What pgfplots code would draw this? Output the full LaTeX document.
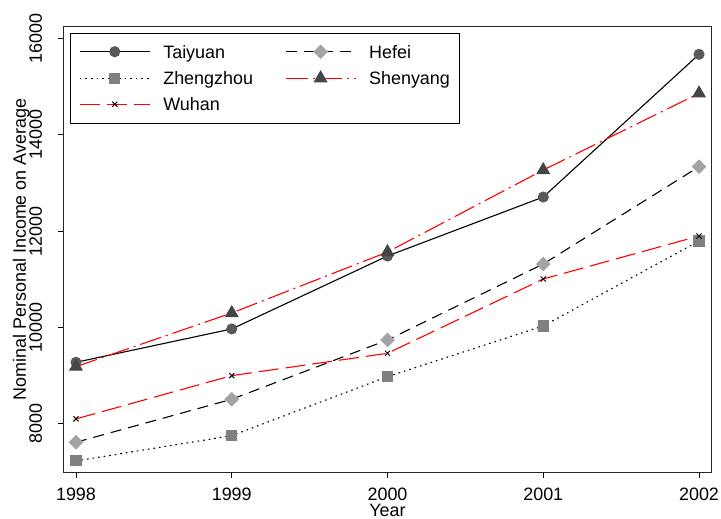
\documentclass[border=0pt]{standalone}
\usepackage{fontspec}
\setmainfont{Liberation Sans}
\usepackage{pgfplots}
\pgfplotsset{compat=1.18}

\definecolor{circlegray}{HTML}{595959}
\definecolor{squaregray}{HTML}{808080}
\definecolor{diamondgray}{HTML}{A3A3A3}
\definecolor{trianglegray}{HTML}{454545}
\definecolor{linered}{HTML}{FF0000}

\begin{document}
\begin{tikzpicture}[font=\fontsize{18}{21.6}\selectfont]
\begin{axis}[
  scale only axis, width=647bp, height=445bp,
  xmin=1997.923, xmax=2002.077,
  ymin=6990, ymax=16245,
  xtick={1998,1999,2000,2001,2002},
  ytick={8000,10000,12000,14000,16000},
  scaled y ticks=false, scaled x ticks=false,
  xtick pos=left, ytick pos=left,
  tick align=outside, major tick length=6bp,
  every tick/.style={black, line width=0.9bp},
  axis line style={black!85, line width=1bp},
  /pgf/number format/assume math mode=true,
  /pgf/number format/1000 sep={},
  xticklabel style={anchor=north, inner sep=0pt},
  xticklabel shift=10bp,
  yticklabel style={rotate=90, anchor=south, inner sep=0pt},
  yticklabel shift=15.7bp,
  xlabel={Year},
  ylabel={Nominal Personal Income on Average},
  every axis x label/.style={at={(axis description cs:0.5,-0.0719)}, anchor=north, inner sep=0pt},
  every axis y label/.style={at={(axis description cs:-0.066,0.5)}, rotate=90, anchor=center, inner sep=0pt},
  legend columns=2,
  legend cell align=left,
  legend image code/.code={\draw[mark repeat=2,mark phase=2] plot coordinates {(0bp,0bp) (35bp,0bp) (70bp,0bp)};},
  legend style={at={(axis description cs:0.0093,0.9865)}, anchor=north west,
    fill=white, inner xsep=9bp, inner ysep=12bp, row sep=13bp,
    nodes={inner sep=0pt, text height=13bp, text depth=0bp},
    /tikz/column 1/.style={column sep=13bp},
    /tikz/column 2/.style={column sep=32bp},
    /tikz/column 3/.style={column sep=13bp}},
]
% Taiyuan
\addplot[color=black, draw=black, line width=1.1bp, mark=*, mark size=5bp,
  mark options={solid, fill=circlegray, draw=circlegray}]
  coordinates {(1998,9272) (1999,9965) (2000,11482) (2001,12709) (2002,15676)};
% Hefei
\addplot[color=black, draw=black, line width=1.1bp, dash pattern=on 11bp off 7bp, mark=square*, mark size=4.6bp,
  mark options={solid, rotate=45, fill=diamondgray, draw=diamondgray}]
  coordinates {(1998,7609) (1999,8503) (2000,9736) (2001,11316) (2002,13339)};
% Zhengzhou
\addplot[color=black, draw=black, line width=1.1bp, dash pattern=on 1.6bp off 4bp, mark=square*, mark size=5bp,
  mark options={solid, fill=squaregray, draw=squaregray}]
  coordinates {(1998,7220) (1999,7746) (2000,8973) (2001,10027) (2002,11794)};
% Shenyang
\addplot[color=linered, draw=linered, line width=1.1bp, dash pattern=on 22bp off 5bp on 2bp off 5bp, mark=triangle*, mark size=7bp,
  mark options={solid, fill=trianglegray, draw=trianglegray}]
  coordinates {(1998,9181) (1999,10297) (2000,11565) (2001,13270) (2002,14865)};
% Wuhan
\addplot[color=linered, draw=linered, line width=1.1bp, dash pattern=on 20bp off 7bp, mark=x, mark size=3.6bp,
  mark options={solid, draw=black, line width=1bp}]
  coordinates {(1998,8094) (1999,8994) (2000,9459) (2001,11004) (2002,11898)};
\legend{Taiyuan, Hefei, Zhengzhou, Shenyang, Wuhan}
\coordinate (tl) at (rel axis cs:0,1);
\coordinate (br) at (rel axis cs:1,0);
\end{axis}
\pgfresetboundingbox
\path[use as bounding box] ([shift={(-64bp,27bp)}]tl) rectangle ([shift={(10bp,-47bp)}]br);
\end{tikzpicture}
\end{document}
